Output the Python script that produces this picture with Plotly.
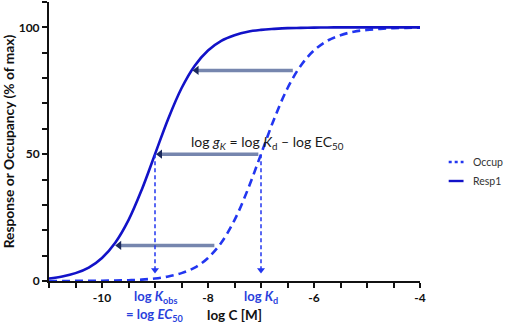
import plotly.graph_objects as go

# ---- data ----
log_c = [-11, -10.75, -10.5, -10.25, -10, -9.75, -9.5, -9.25, -9, -8.75, -8.5, -8.25, -8,
         -7.75, -7.5, -7.25, -7, -6.75, -6.5, -6.25, -6, -5.75, -5.5, -5.25, -5,
         -4.75, -4.5, -4.25, -4]
resp1 = [1.0, 1.8, 3.1, 5.3, 9.1, 15.1, 24.0, 36.0, 50.0, 64.0, 76.0, 84.9, 90.9,
         94.7, 96.9, 98.3, 99.0, 99.4, 99.7, 99.8, 99.9, 99.95, 100, 100, 100,
         100, 100, 100, 100]
occup = [0.01, 0.02, 0.03, 0.06, 0.1, 0.18, 0.3, 0.56, 1.0, 1.8, 3.1, 5.3, 9.1,
         15.1, 24.0, 36.0, 50.0, 64.0, 76.0, 84.9, 90.9, 94.7, 96.9, 98.3, 99.0,
         99.4, 99.7, 99.8, 99.9]
series_names = ["Occup", "Resp1"]

# horizontal shift arrows: level, tail (occupancy curve), head (response curve)
arrow_levels = [14, 50, 83]
arrow_tail_x = [-7.88, -7.05, -6.40]
arrow_head_x = [-9.75, -8.98, -8.29]

# vertical dashed markers (from 50 % down to the baseline)
log_ec50 = -9.0
log_kd = -7.0
vline_top = 50
vline_tip = 3

x_tickvals = [-10, -8, -6, -4]
x_ticktext = ["-10", "-8", "-6", "-4"]
y_tickvals = [0, 50, 100]
y_ticktext = ["0", "50", "100"]

SOLID = "#1212c8"
DASHC = "#2236f0"
ARROW_LINE = "#7686ae"
ARROW_HEAD = "#1c2a5c"
LABEL_BLUE = "#2a3fdc"
FONT = "Lato"

PX_PER_X = 375 / 7.0
PX_PER_Y = 279 / 110.0

fig = go.Figure()

fig.add_trace(go.Scatter(x=log_c, y=occup, mode="lines", name=series_names[0],
                         line=dict(color=DASHC, width=2.6, dash="8px,5px", shape="spline"),
                         showlegend=False))
fig.add_trace(go.Scatter(x=log_c, y=resp1, mode="lines", name=series_names[1],
                         line=dict(color=SOLID, width=2.6, shape="spline"),
                         showlegend=False))

# horizontal arrows (shaft + small triangular head whose tip touches the response curve)
head_size = 8
for lv, xt, xh in zip(arrow_levels, arrow_tail_x, arrow_head_x):
    hc = xh + (head_size / 2) / PX_PER_X
    fig.add_trace(go.Scatter(x=[xt, hc], y=[lv, lv], mode="lines",
                             line=dict(color=ARROW_LINE, width=3.5), showlegend=False,
                             hoverinfo="skip"))
    fig.add_trace(go.Scatter(x=[hc], y=[lv], mode="markers", showlegend=False,
                             hoverinfo="skip",
                             marker=dict(symbol="triangle-left", size=head_size,
                                         color=ARROW_HEAD, line=dict(width=0))))

# vertical dashed arrows
vhead = 7
for xv in [log_ec50, log_kd]:
    hc = vline_tip + (vhead / 2) / PX_PER_Y
    fig.add_trace(go.Scatter(x=[xv, xv], y=[vline_top, hc], mode="lines",
                             line=dict(color=DASHC, width=1.5, dash="4px,3px"),
                             showlegend=False, hoverinfo="skip"))
    fig.add_trace(go.Scatter(x=[xv], y=[hc], mode="markers", showlegend=False,
                             hoverinfo="skip",
                             marker=dict(symbol="triangle-down", size=vhead,
                                         color=DASHC, line=dict(width=0))))

# formula text
fig.add_annotation(x=-6.87, y=54.5, xref="x", yref="y", showarrow=False,
                   text="log <i>g</i><sub><i>K</i></sub> = log <i>K</i><sub>d</sub> – log EC<sub>50</sub>",
                   font=dict(family=FONT, size=14, color="#1a1a1a"))

# plot area in pixels: x 45..420, y 2..281
def px2paper(px, py):
    return (px - 45) / 375.0, (281 - py) / 279.0

# labels under the axis
_, y_row1 = px2paper(0, 297)
_, y_row2 = px2paper(0, 315)
fig.add_annotation(x=log_ec50, y=y_row1, xref="x", yref="paper", showarrow=False,
                   yanchor="middle", text="<b>log <i>K</i><sub>obs</sub></b>",
                   font=dict(family=FONT, size=13, color=LABEL_BLUE))
fig.add_annotation(x=log_ec50, y=y_row2, xref="x", yref="paper", showarrow=False,
                   yanchor="middle", text="<b>= log <i>EC</i><sub>50</sub></b>",
                   font=dict(family=FONT, size=13, color=LABEL_BLUE))
fig.add_annotation(x=log_kd, y=y_row1, xref="x", yref="paper", showarrow=False,
                   yanchor="middle", text="<b>log <i>K</i><sub>d</sub></b>",
                   font=dict(family=FONT, size=13, color=LABEL_BLUE))

# manual legend
leg_rows = [(162, DASHC, "3px,3px"), (181, SOLID, "solid")]
for name, (py, col, dsh) in zip(series_names, leg_rows):
    x0, y0 = px2paper(449, py)
    x1, _ = px2paper(464, py)
    fig.add_shape(type="line", xref="paper", yref="paper", x0=x0, x1=x1, y0=y0, y1=y0,
                  line=dict(color=col, width=2.4, dash=dsh))
    tx, _ = px2paper(472, py)
    fig.add_annotation(x=tx, y=y0, xref="paper", yref="paper", text=name, showarrow=False,
                       xanchor="left", yanchor="middle",
                       font=dict(family=FONT, size=10.5, color="#333333"))

fig.update_layout(
    width=505, height=325,
    margin=dict(l=45, r=85, t=2, b=44),
    paper_bgcolor="white", plot_bgcolor="white",
    font=dict(family=FONT, color="#111111"),
    showlegend=False,
)
fig.update_xaxes(
    range=[-11, -4], showgrid=False, zeroline=False,
    showline=True, linecolor="#111111", linewidth=2,
    tickmode="array", tickvals=x_tickvals, ticktext=x_ticktext,
    ticks="outside", ticklen=5, tickwidth=1.5, tickcolor="#111111",
    tickfont=dict(family=FONT, size=12, color="#111111", weight="bold"),
    minor=dict(tickmode="linear", tick0=-11, dtick=0.5, ticks="outside", ticklen=5,
               tickwidth=1.5, tickcolor="#111111"),
    title=dict(text="<b>log C [M]</b>", standoff=6,
               font=dict(family=FONT, size=13.5, color="#111111")),
)
fig.update_yaxes(
    range=[0, 110], showgrid=False, zeroline=False,
    showline=True, linecolor="#111111", linewidth=2,
    tickmode="array", tickvals=y_tickvals, ticktext=y_ticktext,
    ticks="outside", ticklen=5, tickwidth=1.5, tickcolor="#111111",
    tickfont=dict(family=FONT, size=12, color="#111111", weight="bold"),
    minor=dict(tickmode="linear", tick0=0, dtick=10, ticks="outside", ticklen=5,
               tickwidth=1.5, tickcolor="#111111"),
    title=dict(text="<b>Response or Occupancy (% of max)</b>", standoff=7,
               font=dict(family=FONT, size=13.8, color="#111111")),
)

fig.write_html("out.html", config={"displayModeBar": False},
               post_script="document.body.style.margin='0px';")
